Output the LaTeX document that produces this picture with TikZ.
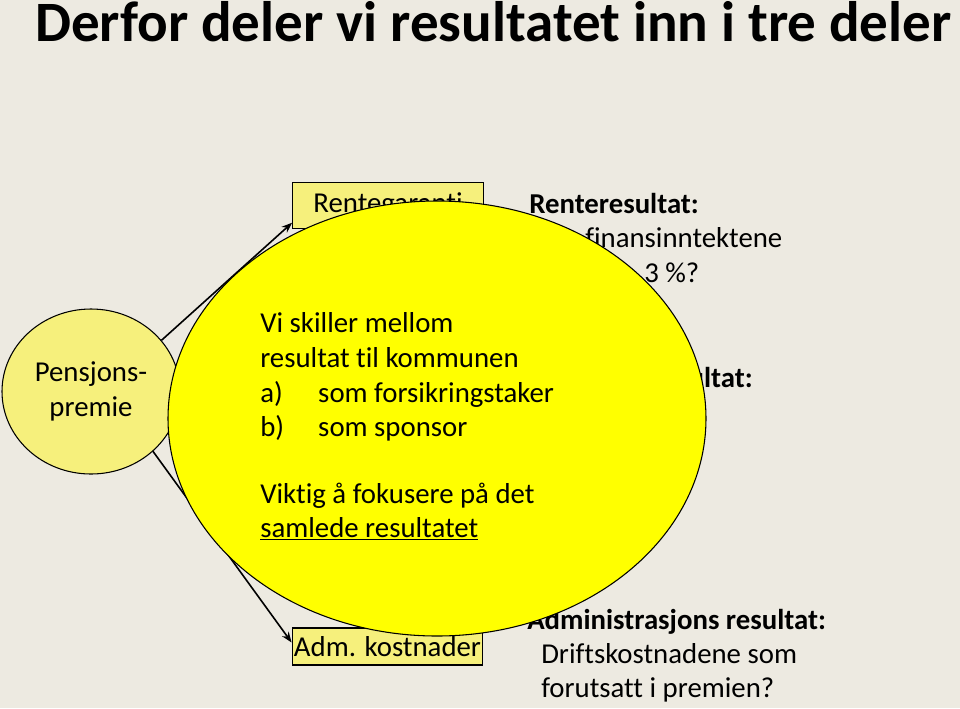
\documentclass[tikz,border=0pt]{standalone}
\usepackage{fontspec}
\setmainfont[Ligatures=NoCommon]{Carlito}
\usetikzlibrary{shapes.geometric,arrows.meta}
\definecolor{bgc}{RGB}{237,234,225}
\definecolor{paleyel}{RGB}{246,240,124}
\definecolor{bigyel}{RGB}{255,255,0}
\tikzset{
  body/.style={font=\fontsize{21.6}{25.5}\selectfont, inner sep=0pt, text=black},
  bodyb/.style={font=\fontsize{21.6}{25.5}\selectfont\bfseries, inner sep=0pt, text=black},
  box/.style={draw=black, line width=0.8pt, fill=paleyel, inner sep=0pt, minimum width=143pt, minimum height=34pt, font=\fontsize{21.6}{25.5}\selectfont},
  conn/.style={line width=1.2pt, -{Stealth[length=8pt,width=6pt]}},
}
\begin{document}
\begin{tikzpicture}[x=0.75pt,y=-0.75pt]
\fill[bgc] (0,0) rectangle (960,708);
\useasboundingbox (0,0) rectangle (960,708);
% title
\node[anchor=base west, inner sep=0pt, font=\fontsize{42.8}{50}\selectfont\bfseries] (title) at (35,41) {Derfor deler vi resultatet inn i tre deler};
% left ellipse
\node[ellipse, draw=black, line width=0.8pt, fill=paleyel, minimum width=133.5pt, minimum height=123.75pt, inner sep=0pt, align=center, font=\fontsize{21.6}{26}\selectfont] (pp) at (91,391.5) {Pensjons-\\premie};
% boxes
\node[box] (rg) at (388,205.5) {Rentegaranti};
\node[box, minimum height=27.75pt] (adm) at (387.5,646.5) {Adm. kostnader};
% connectors
\draw[conn] (pp.36) -- ([yshift=4.5pt]rg.south west);
\draw[conn] (pp.-44) -- ([yshift=3pt]adm.west);
% right texts
\node[bodyb, anchor=base west] (rr) at (529,213) {Renteresultat:};
\node[body, anchor=base west] (rr1) at (585,247) {finansinntektene};
\node[body, anchor=base west] (rr2) at (644,282) {3 \%?};
\node[bodyb, anchor=base east] (mr) at (753,387) {resultat:};
\node[bodyb, anchor=base west] (ar) at (527,629) {Administrasjons resultat:};
\node[body, anchor=base west] (ar1) at (541,663) {Driftskostnadene som};
\node[body, anchor=base west] (ar2) at (541,697) {forutsatt i premien?};
% big circle
\node[ellipse, draw=black, line width=0.8pt, fill=bigyel, minimum width=403.5pt, minimum height=326.25pt, inner sep=0pt] (big) at (437,418.5) {};
\node[body, anchor=base west] (c1) at (260,332) {Vi skiller mellom};
\node[body, anchor=base west] (c2) at (260,367) {resultat til kommunen};
\node[body, anchor=base west] (c3) at (260,402) {\makebox[43.5pt][l]{a)}som forsikringstaker};
\node[body, anchor=base west] (c4) at (260,436) {\makebox[43.5pt][l]{b)}som sponsor};
\node[body, anchor=base west] (c5) at (260,503) {Viktig å fokusere på det};
\node[body, anchor=base west] (c6) at (260,537) {\underline{samlede resultatet}};
\end{tikzpicture}
\end{document}
